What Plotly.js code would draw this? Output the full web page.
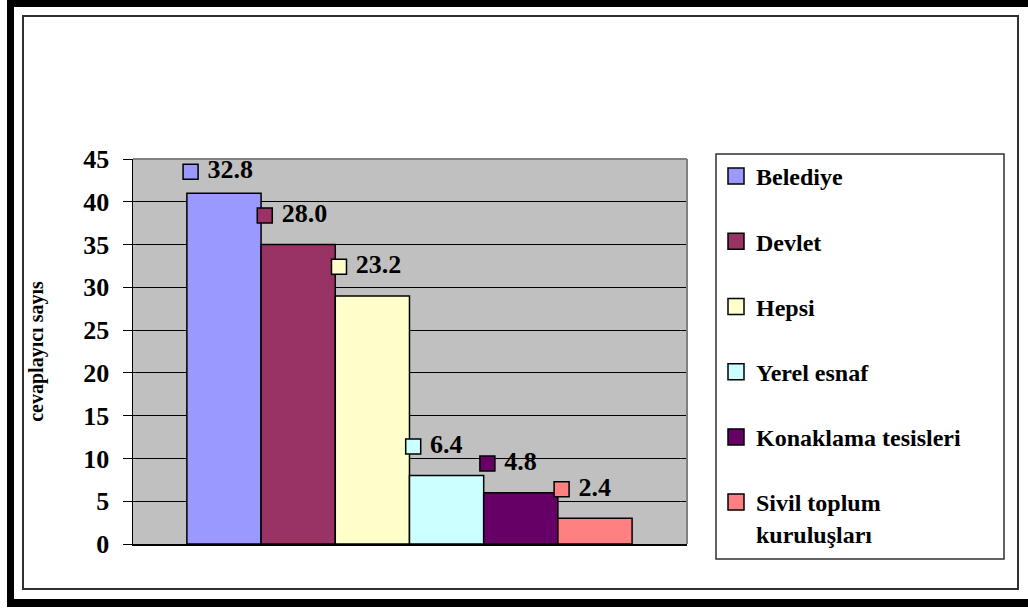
<!DOCTYPE html>
<html>
<head>
<meta charset="utf-8">
<script src="https://cdn.plot.ly/plotly-3.0.1.min.js"></script>
<style>
html,body{margin:0;padding:0;background:#fff;}
#chart{width:1028px;height:608px;}
</style>
</head>
<body>
<div id="chart"></div>
<script>
// ---- data ----
const categories = ["Belediye", "Devlet", "Hepsi", "Yerel esnaf", "Konaklama tesisleri", "Sivil toplum kuruluşları"];
const legendNames = ["Belediye", "Devlet", "Hepsi", "Yerel esnaf", "Konaklama tesisleri", "Sivil toplum<br>kuruluşları"];
const counts = [41, 35, 29, 8, 6, 3];
const percents = [32.8, 28.0, 23.2, 6.4, 4.8, 2.4];
const yTickVals = [0, 5, 10, 15, 20, 25, 30, 35, 40, 45];
const colors = ["#9999FF", "#993366", "#FFFFCC", "#CCFFFF", "#660066", "#FF8080"];

// ---- geometry ----
const W = 1028, H = 608;
const M = {l: 133, r: 341, t: 159, b: 64};
const PW = W - M.l - M.r, PH = H - M.t - M.b;
const px2x = px => (px - M.l) / PW;
const px2y = py => (H - M.b - py) / PH;
const Y_MAX = 45;

const FONT = "Liberation Serif, Times New Roman, serif";

// bars (one trace per category)
const traces = categories.map((c, i) => ({
  type: "bar",
  name: categories[i],
  x: [i],
  y: [counts[i]],
  width: 1,
  showlegend: false,
  marker: {color: colors[i], line: {color: "#000", width: 1.5}},
  hoverinfo: "name+y"
}));

// legend keys (square markers, like the chart's legend)
categories.forEach((c, i) => traces.push({
  type: "scatter",
  mode: "markers",
  name: legendNames[i],
  x: [null], y: [null],
  legendgroup: "g" + i,
  marker: {symbol: "square", size: 16, color: colors[i], line: {color: "#000", width: 1.5}},
  hoverinfo: "skip"
}));

// percentage labels with legend-key squares
traces.push({
  type: "scatter",
  mode: "markers+text",
  x: categories.map((c, i) => i - 0.45),
  y: counts.map(v => Math.min(v + 3.4, Y_MAX - 1.5)),
  text: percents.map(p => " " + p.toFixed(1)),
  textposition: "middle right",
  textfont: {family: FONT, size: 26, color: "#000", weight: "bold"},
  marker: {symbol: "square", size: 15, color: colors, line: {color: "#000", width: 1.5}},
  cliponaxis: false,
  showlegend: false,
  hoverinfo: "skip"
});

const shapes = [
  // plot area top & right gray border
  {type: "line", xref: "paper", yref: "paper", x0: 0, x1: 1, y0: 1, y1: 1, line: {color: "#808080", width: 2}},
  {type: "line", xref: "paper", yref: "paper", x0: 1, x1: 1, y0: 0, y1: 1, line: {color: "#808080", width: 2}},
  // legend box
  {type: "rect", xref: "paper", yref: "paper", x0: px2x(716), x1: px2x(1004), y0: px2y(559), y1: px2y(154),
   line: {color: "#303030", width: 1.5}, fillcolor: "rgba(0,0,0,0)"},
  // inner frame
  {type: "rect", xref: "paper", yref: "paper", x0: px2x(23), x1: px2x(1018), y0: px2y(589), y1: px2y(16),
   line: {color: "#303030", width: 2}, fillcolor: "rgba(0,0,0,0)"},
  // outer black bands
  {type: "rect", xref: "paper", yref: "paper", x0: px2x(7), x1: px2x(14), y0: px2y(607), y1: px2y(0),
   line: {width: 0}, fillcolor: "#000"},
  {type: "rect", xref: "paper", yref: "paper", x0: px2x(7), x1: px2x(1028), y0: px2y(7), y1: px2y(0),
   line: {width: 0}, fillcolor: "#000"},
  {type: "rect", xref: "paper", yref: "paper", x0: px2x(7), x1: px2x(1028), y0: px2y(607), y1: px2y(599),
   line: {width: 0}, fillcolor: "#000"}
];

const layout = {
  width: W, height: H,
  margin: M,
  paper_bgcolor: "#fff",
  plot_bgcolor: "#C0C0C0",
  barmode: "overlay",
  showlegend: true,
  font: {family: FONT, color: "#000"},
  xaxis: {
    range: [-1.226, 6.24],
    showticklabels: false, ticks: "", showgrid: false, zeroline: false,
    showline: true, linecolor: "#000", linewidth: 1.5, fixedrange: true
  },
  yaxis: {
    range: [0, Y_MAX],
    tickvals: yTickVals,
    ticktext: yTickVals.map(String),
    ticks: "outside", ticklen: 9, tickcolor: "#000", tickwidth: 1,
    ticklabelstandoff: 8,
    tickfont: {family: FONT, size: 26, color: "#000", weight: "bold"},
    showline: true, linecolor: "#000", linewidth: 1.5,
    showgrid: true, gridcolor: "#000", gridwidth: 1,
    zeroline: false,
    title: {text: "cevaplayıcı sayıs", standoff: 34,
            font: {family: FONT, size: 20, color: "#000", weight: "bold"}},
    fixedrange: true
  },
  legend: {
    x: px2x(716), y: px2y(154), xanchor: "left", yanchor: "top",
    bgcolor: "rgba(255,255,255,0)", borderwidth: 0,
    font: {family: FONT, size: 24, color: "#000", weight: "bold"},
    traceorder: "grouped", tracegroupgap: 31, valign: "top",
    itemsizing: "trace",
    maxheight: 600,
    itemclick: false, itemdoubleclick: false
  },
  shapes: shapes
};

Plotly.newPlot("chart", traces, layout, {displayModeBar: false, staticPlot: true});
</script>
</body>
</html>
